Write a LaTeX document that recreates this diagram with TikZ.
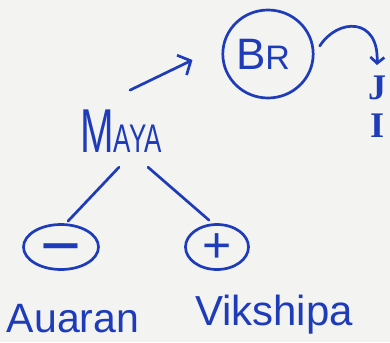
\documentclass[tikz,border=0pt]{standalone}
\usepackage{fontspec}
\setmainfont{Liberation Sans}
\newfontfamily\handserif{Liberation Serif}
\usepackage{graphicx}
\usetikzlibrary{arrows.meta,shapes.geometric}
\definecolor{ink}{RGB}{30,60,185}
\definecolor{paper}{RGB}{243,243,241}

\begin{document}
\begin{tikzpicture}[
    x=1pt, y=-1pt,
    word/.style={text=ink, inner sep=0pt},
    ring/.style={draw=ink, ellipse, line width=2.7pt, inner sep=0pt, text=ink},
    link/.style={draw=ink, line width=2.7pt, line cap=round},
    arr/.style={link, -{Straight Barb[length=10pt, width=22pt, line width=2.7pt]}},
    hookarr/.style={link, -{Straight Barb[length=6pt, width=14pt, line width=2.7pt]}}
]
\fill[paper] (0,0) rectangle (390,342);
\useasboundingbox (0,0) rectangle (390,342);
\node[word, anchor=base] (maya) at (121,152) {\scalebox{0.65}[1]{\fontsize{62}{62}\selectfont M\fontsize{40}{40}\selectfont AYA}};
\node[ring, minimum width=83pt, minimum height=88pt] (br) at (268,54) {\fontsize{44}{44}\selectfont B\fontsize{34}{34}\selectfont R\kern10pt};
\node[word, anchor=north, align=center, font=\handserif\bfseries\fontsize{36}{38}\selectfont] (ji) at (377,76) {J\\I};
\node[ring, minimum width=75pt, minimum height=45pt] (minus) at (61,247) {\fontsize{70}{70}\selectfont\raisebox{-22pt}[0pt][0pt]{−}};
\node[ring, minimum width=63pt, minimum height=45pt] (plus) at (217,247) {\fontsize{50}{50}\selectfont\raisebox{-15.5pt}[0pt][0pt]{+}};
\node[word, anchor=base] (auaran) at (73,332) {\fontsize{41}{41}\selectfont Auaran};
\node[word, anchor=base] (vikshipa) at (274,325) {\fontsize{42}{42}\selectfont Vikshipa};
\draw[arr] ([xshift=9pt,yshift=19pt]maya.north) -- ([xshift=-29pt,yshift=-6pt]br.west);
\draw[hookarr] ([xshift=6pt]br.10) .. controls +(18,-28) and +(2,-48) .. ([yshift=11pt]ji.north);
\draw[link] ([xshift=-2pt,yshift=-15pt]maya.south) -- ([xshift=7pt,yshift=2pt]minus.north);
\draw[link] ([xshift=27pt,yshift=-15pt]maya.south) -- ([xshift=-8pt,yshift=3pt]plus.north);
\end{tikzpicture}
\end{document}
